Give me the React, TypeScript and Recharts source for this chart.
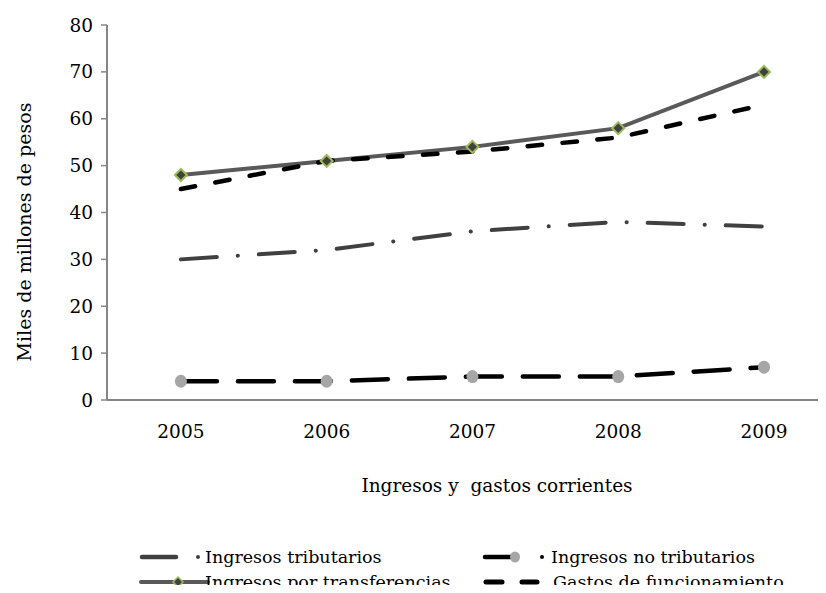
import React from "react";
import { LineChart, Line, XAxis, YAxis, Label } from "recharts";

const years = ["2005", "2006", "2007", "2008", "2009"];
const tributarios = [30, 32, 36, 38, 37];
const noTributarios = [4, 4, 5, 5, 7];
const transferencias = [48, 51, 54, 58, 70];
const gastos = [45, 51, 53, 56, 63];
const yTicks = [0, 10, 20, 30, 40, 50, 60, 70, 80];
const bandTicks = [0, 1, 2, 3, 4];

const data = years.map((year, i) => ({
  year,
  tributarios: tributarios[i],
  noTributarios: noTributarios[i],
  transferencias: transferencias[i],
  gastos: gastos[i],
}));

const FONT = "'DejaVu Serif', serif";
const AXIS = "#868686";

const Diamond = (props: any) => {
  const { cx, cy } = props;
  if (cx == null || cy == null) return null;
  const s = 6;
  return (
    <polygon
      points={`${cx},${cy - s} ${cx + s},${cy} ${cx},${cy + s} ${cx - s},${cy}`}
      fill="#404040"
      stroke="#9BBB59"
      strokeWidth={2}
    />
  );
};

const GrayDot = (props: any) => {
  const { cx, cy } = props;
  if (cx == null || cy == null) return null;
  return <ellipse cx={cx} cy={cy} rx={6} ry={6.5} fill="#A6A6A6" />;
};

const legendText: React.CSSProperties = {
  position: "absolute",
  fontFamily: FONT,
  fontSize: 17.5,
  lineHeight: "20px",
  color: "#000",
  whiteSpace: "nowrap",
};

// legend is drawn in page px minus the 8px body margin
function Legend() {
  return (
    <>
      <svg style={{ position: "absolute", left: 128, top: 539 }} width={80} height={20}>
        <line x1={6} y1={10} x2={40} y2={10} stroke="#404040" strokeWidth={4.5} strokeLinecap="round" />
        <circle cx={62} cy={10} r={2} fill="#404040" />
      </svg>
      <div style={{ ...legendText, left: 197, top: 539 }}>Ingresos tributarios</div>

      <svg style={{ position: "absolute", left: 471, top: 539 }} width={80} height={20}>
        <line x1={6} y1={10} x2={34} y2={10} stroke="#000" strokeWidth={4.5} strokeLinecap="round" />
        <ellipse cx={36} cy={10} rx={5} ry={5.5} fill="#A6A6A6" />
        <circle cx={63} cy={10} r={2} fill="#000" />
      </svg>
      <div style={{ ...legendText, left: 543, top: 539 }}>Ingresos no tributarios</div>

      <svg style={{ position: "absolute", left: 128, top: 564 }} width={80} height={20}>
        <line x1={5} y1={10} x2={72} y2={10} stroke="#595959" strokeWidth={4} strokeLinecap="round" />
        <polygon points="42,5 47,10 42,15 37,10" fill="#404040" stroke="#9BBB59" strokeWidth={1.5} />
      </svg>
      <div style={{ ...legendText, left: 197, top: 564 }}>Ingresos por transferencias</div>

      <svg style={{ position: "absolute", left: 471, top: 564 }} width={80} height={20}>
        <line x1={7} y1={10} x2={23} y2={10} stroke="#000" strokeWidth={5} strokeLinecap="round" />
        <line x1={43} y1={10} x2={58} y2={10} stroke="#000" strokeWidth={5} strokeLinecap="round" />
      </svg>
      <div style={{ ...legendText, left: 545, top: 564 }}>Gastos de funcionamiento</div>
    </>
  );
}

export default function App() {
  return (
    <div style={{ position: "relative", width: 818, height: 585, marginBottom: -8 }}>
      <LineChart
        width={818}
        height={577}
        data={data}
        margin={{ top: 17, right: 0, left: 0, bottom: 0 }}
      >
        <XAxis
          xAxisId="band"
          type="number"
          domain={[0, 4.933]}
          allowDataOverflow
          ticks={bandTicks}
          tick={false}
          height={8}
          tickSize={7}
          axisLine={{ stroke: AXIS, strokeWidth: 2 }}
          tickLine={{ stroke: AXIS, strokeWidth: 1.5 }}
        />
        <XAxis
          xAxisId="cat"
          dataKey="year"
          padding={{ left: 73.9, right: 62 }}
          axisLine={false}
          tickLine={false}
          tickSize={0}
          tickMargin={17}
          height={177}
          tick={{ fontFamily: FONT, fontSize: 18.5, fill: "#000" }}
        >
          <Label
            content={() => (
              <text
                x={489}
                y={477}
                textAnchor="middle"
                dominantBaseline="central"
                fontFamily={FONT}
                fontSize={18.5}
                fill="#000"
              >
                {"Ingresos y\u00A0 gastos corrientes"}
              </text>
            )}
          />
        </XAxis>
        <YAxis
          domain={[0, 80]}
          ticks={yTicks}
          width={99}
          tickSize={6}
          tickMargin={8}
          axisLine={{ stroke: AXIS, strokeWidth: 2 }}
          tickLine={{ stroke: AXIS, strokeWidth: 1.5 }}
          tick={{ fontFamily: FONT, fontSize: 18.5, fill: "#000" }}
        >
          <Label
            content={() => (
              <text
                x={16}
                y={224}
                transform="rotate(-90 16 224)"
                textAnchor="middle"
                dominantBaseline="central"
                fontFamily={FONT}
                fontSize={19}
                fill="#000"
              >
                Miles de millones de pesos
              </text>
            )}
          />
        </YAxis>
        <Line
          xAxisId="cat"
          dataKey="tributarios"
          stroke="#404040"
          strokeWidth={4}
          strokeDasharray="36 21 0.1 21"
          strokeLinecap="round"
          dot={false}
          activeDot={false}
          isAnimationActive={false}
        />
        <Line
          xAxisId="cat"
          dataKey="noTributarios"
          stroke="#000"
          strokeWidth={4.5}
          strokeDasharray="36 21"
          strokeLinecap="round"
          dot={<GrayDot />}
          activeDot={false}
          isAnimationActive={false}
        />
        <Line
          xAxisId="cat"
          dataKey="transferencias"
          stroke="#595959"
          strokeWidth={4}
          dot={<Diamond />}
          activeDot={false}
          isAnimationActive={false}
        />
        <Line
          xAxisId="cat"
          dataKey="gastos"
          stroke="#000"
          strokeWidth={4.5}
          strokeDasharray="14.5 20.5"
          strokeLinecap="round"
          dot={false}
          activeDot={false}
          isAnimationActive={false}
        />
      </LineChart>
      <Legend />
    </div>
  );
}
